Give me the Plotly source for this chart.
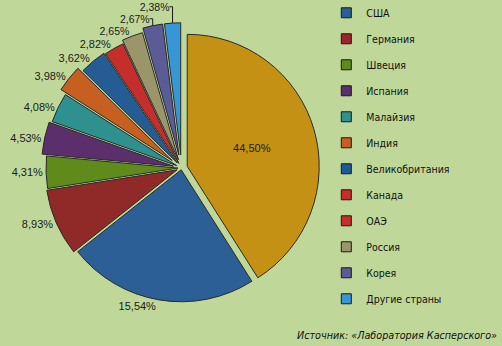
import plotly.graph_objects as go

# Slices, clockwise from 12 o'clock.
# Drawn slice sizes (estimated from the angles as drawn in the picture, in %)
slice_values = [40.6, 23.1, 8.1, 3.9, 3.9, 3.6, 3.25, 3.25, 2.4, 2.55, 2.4, 1.95]
# Printed labels
slice_text = ["44,50%", "15,54%", "8,93%", "4,31%", "4,53%", "4,08%", "3,98%",
              "3,62%", "2,82%", "2,65%", "2,67%", "2,38%"]
slice_colors = ["#C59114", "#2B5F95", "#8F2A28", "#5E8B1A", "#5B2E6C", "#2F9090",
                "#C65F1F", "#255C93", "#C52E2A", "#9A9669", "#5B5B96", "#3797D6"]
slice_pull = [0.045, 0.014, 0.036, 0.027, 0.062, 0.041, 0.09, 0.05, 0.04, 0.067, 0.10, 0.10]
label_size = [11, 11, 11, 11, 11, 11, 11, 11, 11, 10.5, 10.5, 10.5]

# Legend entries
legend_labels = ["США", "Германия", "Швеция", "Испания", "Малайзия", "Индия",
                 "Великобритания", "Канада", "ОАЭ", "Россия", "Корея", "Другие страны"]
legend_colors = ["#2B5F95", "#A0222E", "#5E8B1A", "#5B2E6C", "#2F9090", "#C65F1F",
                 "#1F5A96", "#C52E2A", "#C52E2A", "#9A9669", "#5B5B96", "#3797D6"]

BG = "#BFD89A"
NARROW = "DejaVu Sans Condensed, Liberation Sans Narrow, Arial Narrow, Liberation Sans, sans-serif"
LABELF = "Liberation Sans, Arial, sans-serif"

fig = go.Figure()
fig.add_trace(go.Pie(
    values=slice_values,
    text=slice_text,
    textinfo="text",
    textposition=["inside"] + ["outside"] * 11,
    textfont=dict(family=LABELF, size=label_size, color="#1a1a1a"),
    insidetextfont=dict(family=LABELF, size=11, color="#1a1a1a"),
    outsidetextfont=dict(family=LABELF, size=label_size, color="#1a1a1a"),
    marker=dict(colors=slice_colors, line=dict(color="#2a2a2a", width=1)),
    pull=slice_pull,
    sort=False,
    direction="clockwise",
    rotation=0,
    showlegend=False,
    hoverinfo="skip",
    domain=dict(x=[0.0724, 0.6508], y=[0.0949, 0.9342]),
))

for i, (lab, col) in enumerate(zip(legend_labels, legend_colors)):
    fig.add_trace(go.Scatter(
        x=[None], y=[None], mode="markers", name=lab,
        legendgroup=f"g{i}",
        marker=dict(symbol="square", size=10, color=col,
                    line=dict(color="#1a1a1a", width=1)),
    ))

fig.update_layout(
    width=502, height=346,
    margin=dict(l=0, r=0, t=0, b=0, autoexpand=False),
    paper_bgcolor=BG, plot_bgcolor=BG,
    xaxis=dict(visible=False), yaxis=dict(visible=False),
    legend=dict(
        x=0.65, y=1.005, xanchor="left", yanchor="top",
        bgcolor="rgba(0,0,0,0)",
        font=dict(family=NARROW, size=10.5, color="#111"),
        tracegroupgap=7,
        maxheight=1,
    ),
    annotations=[dict(
        text="<i>Источник: «Лаборатория Касперского»</i>",
        x=0.995, y=0.005, xref="paper", yref="paper",
        xanchor="right", yanchor="bottom", showarrow=False,
        font=dict(family=NARROW, size=10.7, color="#111"),
    )],
)

fig.write_html("out.html")
